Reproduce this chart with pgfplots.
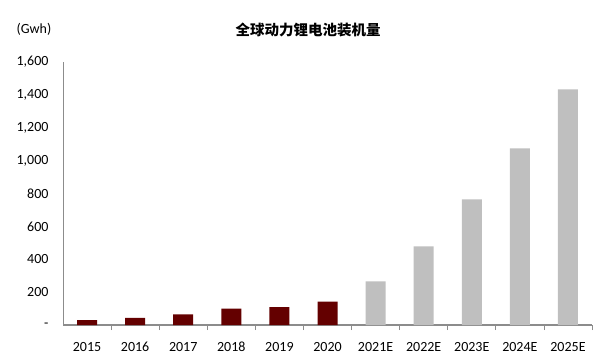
\documentclass[border=0pt]{standalone}
\usepackage{pgfplots}
\pgfplotsset{compat=1.18}
\usepackage{fontspec}
\setmainfont{Carlito}
\newfontfamily\cjk{Noto Sans CJK SC}
\definecolor{hist}{HTML}{640000}
\definecolor{fore}{HTML}{BFBFBF}
\definecolor{axisgray}{HTML}{8C8C8C}
\begin{document}
\begin{tikzpicture}[x=1pt,y=1pt]
\useasboundingbox (0,0) rectangle (604,360);
\node[font=\fontsize{14}{16}\selectfont] at (34,331) {(Gwh)};
\node[font=\cjk\bfseries\fontsize{14.5}{16}\selectfont] at (308,330) {全球动力锂电池装机量};
\begin{axis}[
  at={(87.05pt,35pt)}, anchor=origin,
  scale only axis, width=529pt, height=263pt,
  xmin=-0.5, xmax=10.5, ymin=0, ymax=1600,
  axis x line*=bottom, axis y line*=left,
  x axis line style={axisgray, line width=1.4pt, -},
  y axis line style={axisgray, line width=0.8pt, -},
  xtick={0,...,10},
  xticklabels={2015,2016,2017,2018,2019,2020,2021E,2022E,2023E,2024E,2025E},
  minor xtick={0.5,1.5,...,10.5},
  major x tick style={draw=none},
  minor x tick style={axisgray, line width=0.8pt},
  minor tick length=5pt,
  xtick pos=bottom,
  tick align=inside,
  ytick={0,200,...,1600},
  yticklabels={-,200,400,600,800,{1,000},{1,200},{1,400},{1,600}},
  major y tick style={draw=none},
  ticklabel style={font=\fontsize{14}{16}\selectfont},
  xticklabel style={yshift=-9pt, text height=9.5pt, text depth=0pt},
  yticklabel style={xshift=-11pt},
  ybar, bar width=20pt, bar shift=0pt,
  clip=false,
]
\addplot[fill=hist, draw=none] coordinates {(0,30) (1,43) (2,65) (3,99) (4,109) (5,142)};
\addplot[fill=fore, draw=none] coordinates {(6,266) (7,478) (8,764) (9,1074) (10,1433)};
\end{axis}
\end{tikzpicture}
\end{document}
